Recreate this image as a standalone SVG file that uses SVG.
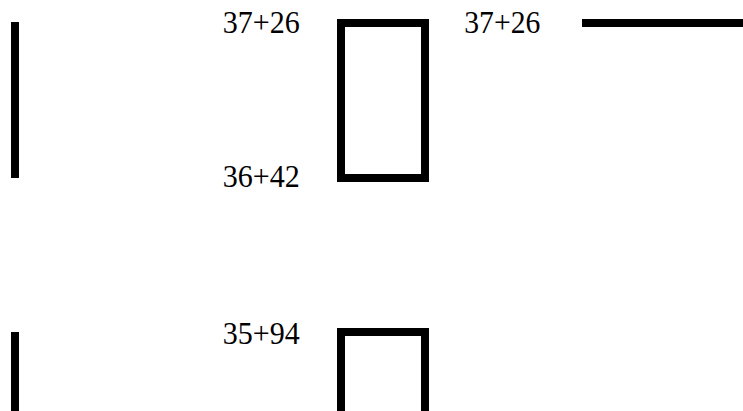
<svg xmlns="http://www.w3.org/2000/svg" width="743" height="411" viewBox="0 0 743 411">
<style>
.s{fill:none;stroke:#000;stroke-width:8}
text{font-family:'Liberation Serif','Times New Roman',Times,serif;font-size:32px;fill:#000}
</style>
<rect width="743" height="411" fill="#fff"/>
<g id="connectors">
<line class="s" x1="15" y1="22" x2="15" y2="178"/>
<line class="s" x1="15" y1="332" x2="15" y2="411"/>
<line class="s" x1="582" y1="23" x2="743" y2="23"/>
</g>
<g id="node1"><rect class="s" x="341" y="23" width="84" height="155"/></g>
<g id="node2"><path class="s" d="M341,415 V332 H425 V415"/></g>
<g id="labels">
<text x="222.7" y="33" textLength="77" lengthAdjust="spacingAndGlyphs">37+26</text>
<text x="464.3" y="33" textLength="76" lengthAdjust="spacingAndGlyphs">37+26</text>
<text x="222.7" y="187" textLength="77" lengthAdjust="spacingAndGlyphs">36+42</text>
<text x="222.7" y="343.5" textLength="77" lengthAdjust="spacingAndGlyphs">35+94</text>
</g>
</svg>
